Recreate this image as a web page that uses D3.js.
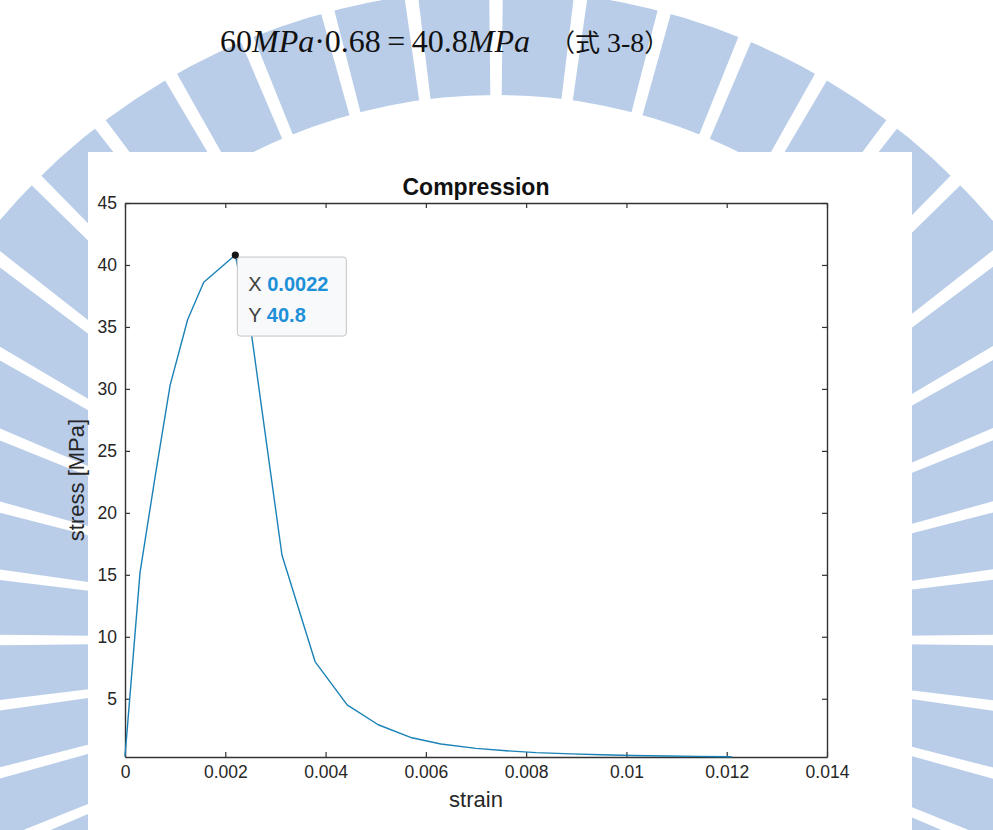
<!DOCTYPE html>
<html>
<head>
<meta charset="utf-8">
<script src="https://cdn.jsdelivr.net/npm/d3@7"></script>
<style>
  html, body { margin: 0; padding: 0; background: #fff; }
  svg { display: block; }
</style>
</head>
<body>
<svg id="chart" width="993" height="830"></svg>
<script>
// ---- data ----
const strain = [0, 0.0003, 0.0006, 0.0009, 0.00125, 0.00157, 0.0022, 0.00252, 0.00313, 0.00379, 0.00443, 0.00505, 0.00572, 0.0063, 0.0070, 0.0076, 0.0082, 0.0089, 0.0095, 0.0101, 0.0108, 0.0114, 0.0121];
const stress = [0.35, 15.2, 22.9, 30.3, 35.6, 38.6, 40.8, 34.5, 16.6, 8.0, 4.5, 2.9, 1.85, 1.35, 1.0, 0.8, 0.65, 0.55, 0.48, 0.42, 0.38, 0.35, 0.32];
const xTicks = [0, 0.002, 0.004, 0.006, 0.008, 0.01, 0.012, 0.014];
const yTicks = [5, 10, 15, 20, 25, 30, 35, 40, 45];
const xDomain = [0, 0.014];
const yDomain = [0.3, 45];
const titleText = "Compression";
const xLabelText = "strain";
const yLabelText = "stress [MPa]";
const peakStrain = 0.0022;
const peakStress = 40.8;
const tipLabels = ["X", "Y"];
const tipValues = ["0.0022", "40.8"];

const svg = d3.select("#chart");
const W = 993, H = 830;

// ---- watermark (decorative seal) ----
const wm = svg.append("g");
const wmCx = 496, wmCy = 640, wmR = 650, wmRin = 545;
const wmBlue = "#b9cde9";
wm.append("circle").attr("cx", wmCx).attr("cy", wmCy).attr("r", wmR).attr("fill", wmBlue);
const slitStep = 7.5, slitW = 1.2;
const slits = d3.range(-180, 180, slitStep);
wm.selectAll("path.slit").data(slits).join("path")
  .attr("class", "slit")
  .attr("fill", "#fff")
  .attr("d", a => {
    const a0 = (a - slitW / 2) * Math.PI / 180, a1 = (a + slitW / 2) * Math.PI / 180;
    const R = wmR + 20;
    return `M${wmCx},${wmCy}L${wmCx + R * Math.cos(a0)},${wmCy + R * Math.sin(a0)}L${wmCx + R * Math.cos(a1)},${wmCy + R * Math.sin(a1)}Z`;
  });
svg.append("clipPath").attr("id", "innerClip")
  .append("rect").attr("x", 90).attr("y", 0).attr("width", 822).attr("height", H);
wm.append("circle").attr("cx", wmCx).attr("cy", wmCy).attr("r", wmRin)
  .attr("fill", "#fff").attr("clip-path", "url(#innerClip)");

// ---- formula line ----
const serif = "'Liberation Serif','Times New Roman',serif";
const f = svg.append("text").attr("x", 220).attr("y", 52)
  .attr("font-family", serif)
  .attr("font-size", 32).attr("fill", "#111");
f.append("tspan").text("60");
f.append("tspan").attr("font-style", "italic").text("MPa");
f.append("tspan").text("\u00B70.68\u2009=\u200940.8");
f.append("tspan").attr("font-style", "italic").text("MPa");
const f2 = svg.append("text").attr("x", 550).attr("y", 52)
  .attr("font-size", 25).attr("fill", "#111");
f2.append("tspan").attr("font-family", "'Noto Sans CJK TC','Noto Sans CJK SC',serif").text("\uFF08\u5F0F");
f2.append("tspan").attr("font-family", serif).attr("font-size", 28).text("\u00A03-8");
f2.append("tspan").attr("font-family", "'Noto Sans CJK TC','Noto Sans CJK SC',serif").text("\uFF09");

// ---- figure white background ----
svg.append("rect").attr("x", 88).attr("y", 152).attr("width", 824).attr("height", H - 152).attr("fill", "#fff");

// ---- scales ----
const x = d3.scaleLinear().domain(xDomain).range([125, 827]);
const y = d3.scaleLinear().domain(yDomain).range([757, 203]);

const axisColor = "#333";
const textColor = "#262626";
const font = "'Liberation Sans', Arial, Helvetica, sans-serif";
const fmt = d => d === 0 ? "0" : String(+d.toFixed(3));

function styleAxis(g, showText) {
  g.select(".domain").attr("stroke", axisColor).attr("stroke-width", 1.4);
  g.selectAll(".tick line").attr("stroke", axisColor).attr("stroke-width", 1.2);
  g.selectAll(".tick text").attr("fill", textColor).attr("font-family", font).attr("font-size", 17.5);
  if (!showText) g.selectAll(".tick text").remove();
}

svg.append("g").attr("transform", `translate(0,${y.range()[0]})`)
  .call(d3.axisBottom(x).tickValues(xTicks).tickFormat(fmt).tickSize(-5).tickSizeOuter(0).tickPadding(9))
  .call(g => styleAxis(g, true));
svg.append("g").attr("transform", `translate(0,${y.range()[1]})`)
  .call(d3.axisTop(x).tickValues(xTicks).tickSize(-5).tickSizeOuter(0))
  .call(g => styleAxis(g, false));
svg.append("g").attr("transform", `translate(${x.range()[0]},0)`)
  .call(d3.axisLeft(y).tickValues(yTicks).tickSize(-5).tickSizeOuter(0).tickPadding(8))
  .call(g => styleAxis(g, true));
svg.append("g").attr("transform", `translate(${x.range()[1]},0)`)
  .call(d3.axisRight(y).tickValues(yTicks).tickSize(-5).tickSizeOuter(0))
  .call(g => styleAxis(g, false));

// ---- titles ----
const cx = (x.range()[0] + x.range()[1]) / 2;
svg.append("text").attr("x", cx).attr("y", 195).attr("text-anchor", "middle")
  .attr("font-family", font).attr("font-weight", "bold").attr("font-size", 23)
  .attr("fill", "#111").text(titleText);
svg.append("text").attr("x", cx).attr("y", 807).attr("text-anchor", "middle")
  .attr("font-family", font).attr("font-size", 22).attr("fill", textColor).text(xLabelText);
svg.append("text").attr("transform", `translate(84,${(y.range()[0] + y.range()[1]) / 2}) rotate(-90)`)
  .attr("text-anchor", "middle")
  .attr("font-family", font).attr("font-size", 22).attr("fill", textColor).text(yLabelText);

// ---- line ----
const pts = strain.map((s, i) => [s, stress[i]]);
svg.append("path").datum(pts)
  .attr("fill", "none").attr("stroke", "#1a82b6").attr("stroke-width", 1.4)
  .attr("stroke-linejoin", "round")
  .attr("d", d3.line().x(d => x(d[0])).y(d => y(d[1])));

// ---- data tip ----
const px = x(peakStrain), py = y(peakStress);
svg.append("circle").attr("cx", px).attr("cy", py).attr("r", 3.6).attr("fill", "#161616");
const tip = svg.append("g").attr("transform", `translate(${px + 2},${py + 2})`);
tip.append("rect").attr("x", 0).attr("y", 0).attr("width", 109).attr("height", 79).attr("rx", 3)
  .attr("fill", "#f8f9fa").attr("stroke", "#c4c4c4").attr("stroke-width", 1);
tipLabels.forEach((lab, i) => {
  const t = tip.append("text").attr("x", 11).attr("y", 34 + i * 31)
    .attr("font-family", font).attr("font-size", 20);
  t.append("tspan").attr("fill", "#404040").text(lab + " ");
  t.append("tspan").attr("fill", "#1d90d8").attr("font-weight", "bold").text(tipValues[i]);
});
</script>
</body>
</html>
